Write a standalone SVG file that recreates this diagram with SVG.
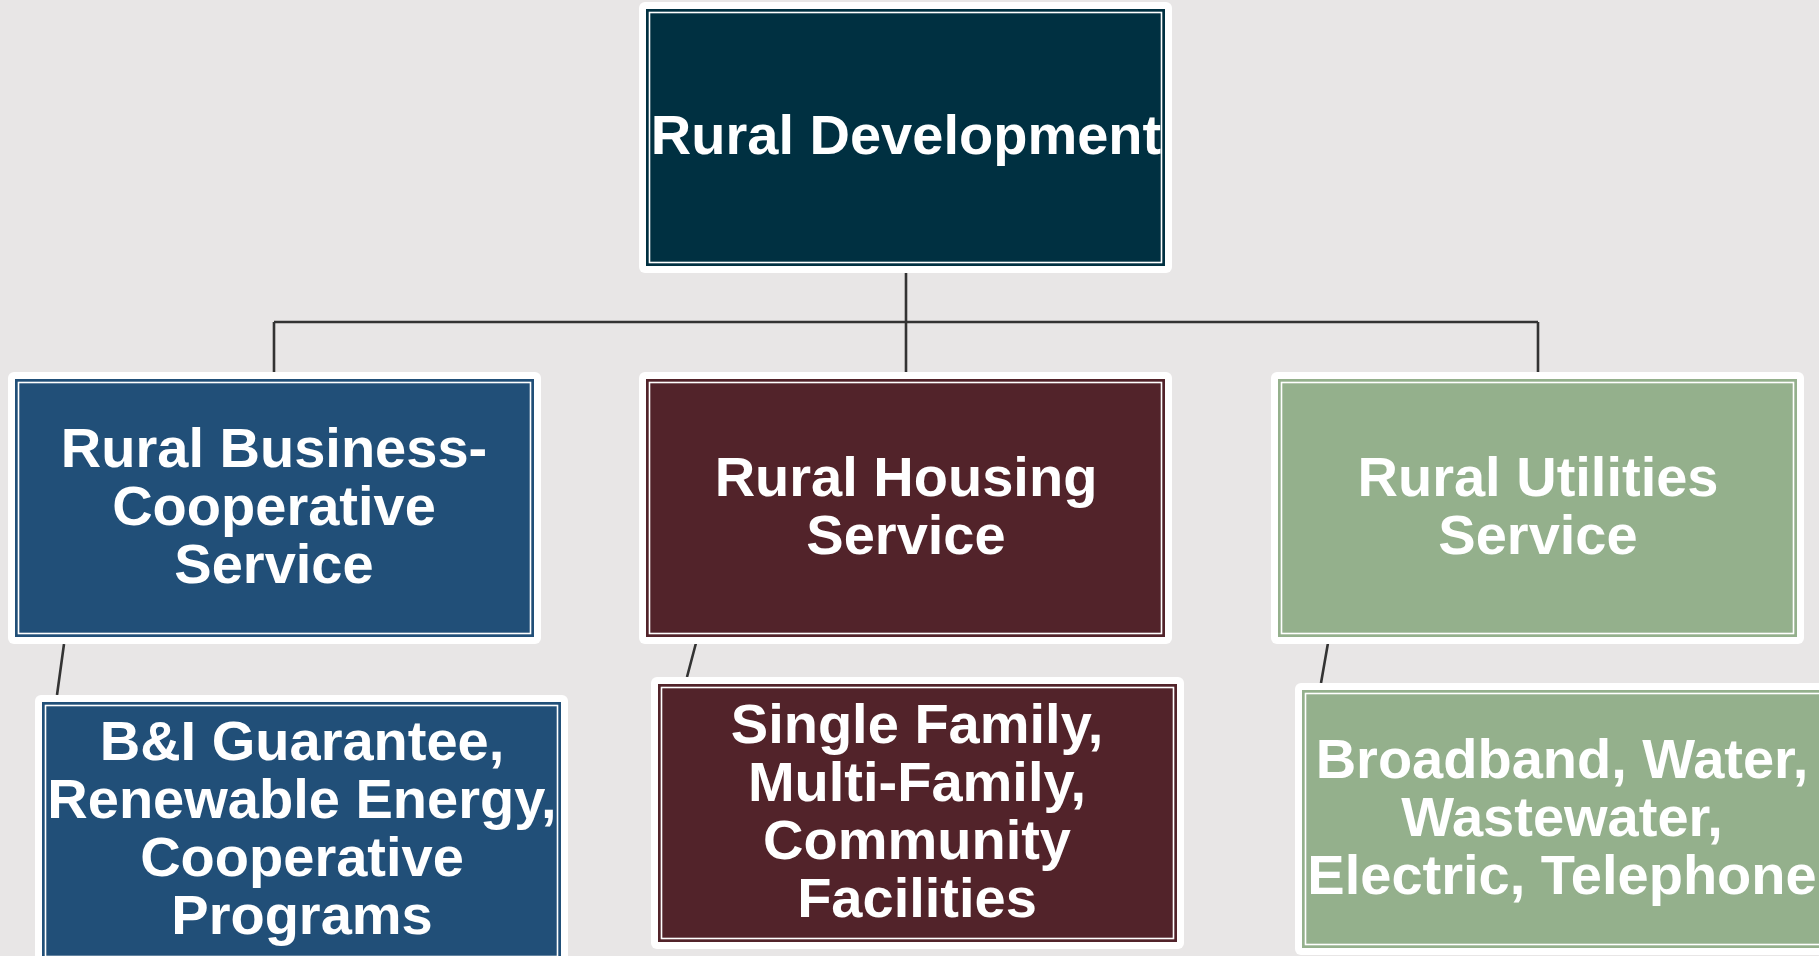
<svg xmlns="http://www.w3.org/2000/svg" width="1819" height="956" viewBox="0 0 1819 956">
<style>
.outer{fill:#ffffff}
.line{fill:none;stroke:#ffffff;stroke-width:1.6}
.conn{fill:none;stroke:#333333;stroke-width:2.6}
.t{font-family:"Liberation Sans",Arial,sans-serif;font-weight:bold;font-size:56px;fill:#ffffff;text-anchor:middle}
</style>
<rect x="0" y="0" width="1819" height="956" fill="#e8e6e6"/>
<g id="connectors">
<path class="conn" d="M906,273 V372 M274,322 H1538 M274,322 V372 M1538,322 V372"/>
<path class="conn" d="M64,644 L57,695 M696,643 L687,677 M1328,643 L1321,683"/>
</g>
<g id="rural-development">
<rect class="outer" x="639" y="2" width="533" height="271" rx="6"/>
<rect x="646" y="9" width="519" height="257" fill="#003041"/>
<rect class="line" x="649.5" y="12.5" width="512" height="250"/>
<text class="t" x="906" y="154">Rural Development</text>
</g>
<g id="rbcs">
<rect class="outer" x="8" y="372" width="533" height="272" rx="6"/>
<rect x="15" y="379" width="519" height="258" fill="#214f78"/>
<rect class="line" x="18.5" y="382.5" width="512" height="251"/>
<text class="t" x="274" y="467">Rural Business-</text>
<text class="t" x="274" y="525">Cooperative</text>
<text class="t" x="274" y="583">Service</text>
</g>
<g id="rhs">
<rect class="outer" x="639" y="372" width="533" height="272" rx="6"/>
<rect x="646" y="379" width="519" height="258" fill="#52232a"/>
<rect class="line" x="649.5" y="382.5" width="512" height="251"/>
<text class="t" x="906" y="496">Rural Housing</text>
<text class="t" x="906" y="554">Service</text>
</g>
<g id="rus">
<rect class="outer" x="1271" y="372" width="533" height="272" rx="6"/>
<rect x="1278" y="379" width="519" height="258" fill="#94b08c"/>
<rect class="line" x="1281.5" y="382.5" width="512" height="251"/>
<text class="t" x="1538" y="496">Rural Utilities</text>
<text class="t" x="1538" y="554">Service</text>
</g>
<g id="rbcs-programs">
<rect class="outer" x="35" y="695" width="533" height="272" rx="6"/>
<rect x="42" y="702" width="519" height="258" fill="#214f78"/>
<rect class="line" x="45.5" y="705.5" width="512" height="251"/>
<text class="t" x="302" y="760">B&amp;I Guarantee,</text>
<text class="t" x="302" y="818">Renewable Energy,</text>
<text class="t" x="302" y="876">Cooperative</text>
<text class="t" x="302" y="934">Programs</text>
</g>
<g id="rhs-programs">
<rect class="outer" x="651" y="677" width="533" height="272" rx="6"/>
<rect x="658" y="684" width="519" height="258" fill="#52232a"/>
<rect class="line" x="661.5" y="687.5" width="512" height="251"/>
<text class="t" x="917" y="743">Single Family,</text>
<text class="t" x="917" y="801">Multi-Family,</text>
<text class="t" x="917" y="859">Community</text>
<text class="t" x="917" y="917">Facilities</text>
</g>
<g id="rus-programs">
<rect class="outer" x="1295" y="683" width="540" height="272" rx="6"/>
<rect x="1302" y="690" width="540" height="258" fill="#94b08c"/>
<rect class="line" x="1305.5" y="693.5" width="540" height="251"/>
<text class="t" x="1562" y="778">Broadband, Water,</text>
<text class="t" x="1562" y="836">Wastewater,</text>
<text class="t" x="1562" y="894">Electric, Telephone</text>
</g>
</svg>
